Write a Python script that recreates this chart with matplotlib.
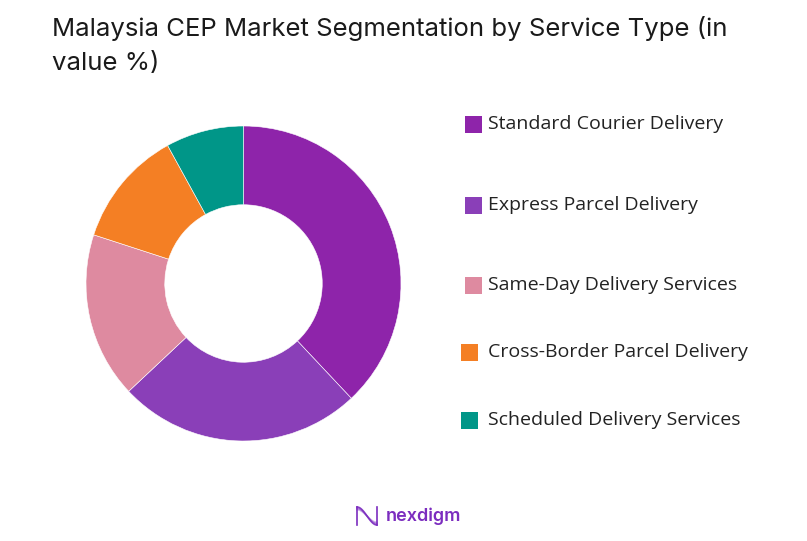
import matplotlib
matplotlib.use("Agg")
import matplotlib.pyplot as plt
import numpy as np
from matplotlib.patches import Rectangle

# data
segments = ["Standard Courier Delivery", "Express Parcel Delivery",
            "Same-Day Delivery Services", "Cross-Border Parcel Delivery",
            "Scheduled Delivery Services"]
shares = [38, 25, 17, 12, 8]
colors = ["#8E24AA", "#8A3FB8", "#DE8AA0", "#F47F24", "#009688"]

W, H = 807, 541
fig = plt.figure(figsize=(W / 100, H / 100), dpi=100)
fig.patch.set_facecolor("white")

def fx(px):
    return px / W

def fy(py):
    return 1 - py / H

# title
fig.text(fx(52), fy(36), "Malaysia CEP Market Segmentation by Service Type (in",
         fontsize=18.5, family="Inter", color="#1a1a1a", va="baseline")
fig.text(fx(52), fy(70), "value %)",
         fontsize=18.5, family="Inter", color="#1a1a1a", va="baseline")

# donut
cx, cy, r = 243.5, 283.5, 157.5
ax = fig.add_axes([fx(cx - r), fy(cy + r), 2 * r / W, 2 * r / H])
ax.pie(shares, colors=colors, startangle=90, counterclock=False, radius=1,
       wedgeprops=dict(width=0.5, edgecolor="white", linewidth=0.4))
ax.set_xlim(-1, 1)
ax.set_ylim(-1, 1)
ax.set_aspect("equal")
ax.axis("off")

# legend, placed by hand like the reference
leg_y = [124, 205, 285, 352, 420]
leg_x = [465, 465, 465, 461, 461]
for name, col, x, y in zip(segments, colors, leg_x, leg_y):
    fig.add_artist(Rectangle((fx(x), fy(y + 8.5)), 17 / W, 17 / H,
                             transform=fig.transFigure, facecolor=col,
                             edgecolor="none"))
    fig.text(fx(488), fy(y), name, fontsize=14, family="Open Sans",
             color="#222222", va="center")

# logo
t = np.linspace(0, 1, 60)
for k, a in enumerate([0.9, 0.6, 0.35]):
    xs = 357 + 20 * t
    ys = 516 - 9 * np.cos(np.pi * t) * (1 - 0.15 * k)
    fig.add_artist(plt.Line2D([fx(v) for v in xs], [fy(v) for v in ys],
                              transform=fig.transFigure,
                              color="#7B2CBF", alpha=a, linewidth=1.2))
fig.add_artist(plt.Line2D([fx(357), fx(357)], [fy(507), fy(525)],
                          transform=fig.transFigure, color="#7B2CBF", linewidth=1.2))
fig.add_artist(plt.Line2D([fx(377), fx(377)], [fy(507), fy(525)],
                          transform=fig.transFigure, color="#7B2CBF", linewidth=1.2))
fig.text(fx(386), fy(516), "nexdigm", fontsize=13, family="Inter",
         fontweight="semibold", color="#7B2CBF", va="center")

fig.savefig("out.png", dpi=100, facecolor="white")
